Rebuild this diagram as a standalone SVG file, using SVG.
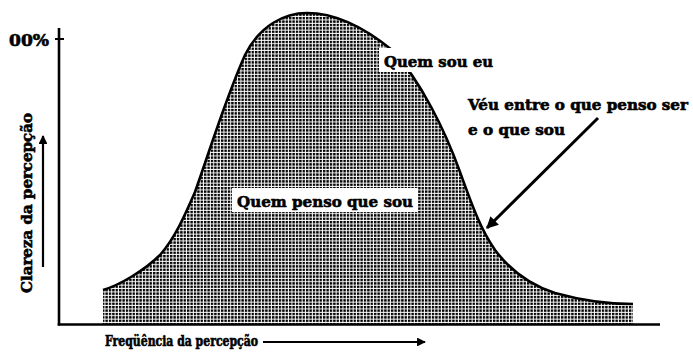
<svg xmlns="http://www.w3.org/2000/svg" width="693" height="354" viewBox="0 0 693 354">
<style>
.t{font-family:"DejaVu Serif","Liberation Serif",serif;font-weight:bold;fill:#000;stroke:#000;stroke-width:0.6;}
.ln{stroke:#000;fill:none;stroke-linecap:butt;}
</style>
<defs>
<pattern id="dots" x="0" y="0" width="3.4" height="3.4" patternUnits="userSpaceOnUse">
<rect x="0" y="0" width="2.4" height="2.4" fill="#000"/>
</pattern>
<marker id="ah" viewBox="0 0 10 10" refX="9" refY="5" markerWidth="4" markerHeight="4" orient="auto" markerUnits="strokeWidth">
<path d="M0,0 L10,5 L0,10 Z" fill="#000"/>
</marker>
</defs>
<rect width="693" height="354" fill="#fff"/>

<g id="curve">
<path d="M103,324 L103,290 C120,285 145,270 160,255 C175,238 185,215 195,192 C210,150 225,100 245,55 C260,25 285,13 307,13 C335,13 365,28 392,50 C420,80 445,130 460,172 C472,205 480,228 495,250 C510,270 530,285 555,293 C580,300 605,304 633,304 L633,324 Z" fill="url(#dots)"/>
<path class="ln" stroke-width="2.6" d="M103,290 C120,285 145,270 160,255 C175,238 185,215 195,192 C210,150 225,100 245,55 C260,25 285,13 307,13 C335,13 365,28 392,50 C420,80 445,130 460,172 C472,205 480,228 495,250 C510,270 530,285 555,293 C580,300 605,304 633,304"/>
</g>

<g id="axes">
<line class="ln" x1="59" y1="28" x2="59" y2="325.5" stroke-width="2.6"/>
<line class="ln" x1="57.7" y1="324.5" x2="660" y2="324.5" stroke-width="2.6"/>
<line class="ln" x1="55" y1="39" x2="64" y2="39" stroke-width="2"/>
</g>

<g id="connectors">
<line class="ln" x1="598" y1="118" x2="487" y2="228" stroke-width="3" marker-end="url(#ah)"/>
<line class="ln" x1="43" y1="267" x2="43" y2="136" stroke-width="2.2" marker-end="url(#ah)"/>
<line class="ln" x1="263" y1="342" x2="425" y2="342" stroke-width="2.2" marker-end="url(#ah)"/>
</g>

<g id="label-100">
<text class="t" x="9" y="46" font-size="16" textLength="40" lengthAdjust="spacingAndGlyphs">00%</text>
</g>

<g id="label-quem-sou-eu">
<rect x="379" y="48" width="122" height="24" fill="#fff"/>
<text class="t" x="384" y="67" font-size="15" textLength="109" lengthAdjust="spacingAndGlyphs">Quem sou eu</text>
</g>

<g id="label-veu">
<text class="t" x="468" y="110" font-size="15" textLength="220" lengthAdjust="spacingAndGlyphs">Véu entre o que penso ser</text>
<text class="t" x="468" y="135" font-size="15" textLength="97" lengthAdjust="spacingAndGlyphs">e o que sou</text>
</g>

<g id="label-quem-penso">
<rect x="232" y="188" width="186" height="24" fill="#fff"/>
<text class="t" x="237" y="207" font-size="15.5" textLength="176" lengthAdjust="spacingAndGlyphs">Quem penso que sou</text>
</g>

<g id="label-y">
<text class="t" transform="translate(32,293) rotate(-90)" font-size="15" textLength="180" lengthAdjust="spacingAndGlyphs">Clareza da percepção</text>
</g>

<g id="label-x">
<text class="t" x="105" y="346" font-size="14.5" textLength="153" lengthAdjust="spacingAndGlyphs">Freqüência da percepção</text>
</g>
</svg>
